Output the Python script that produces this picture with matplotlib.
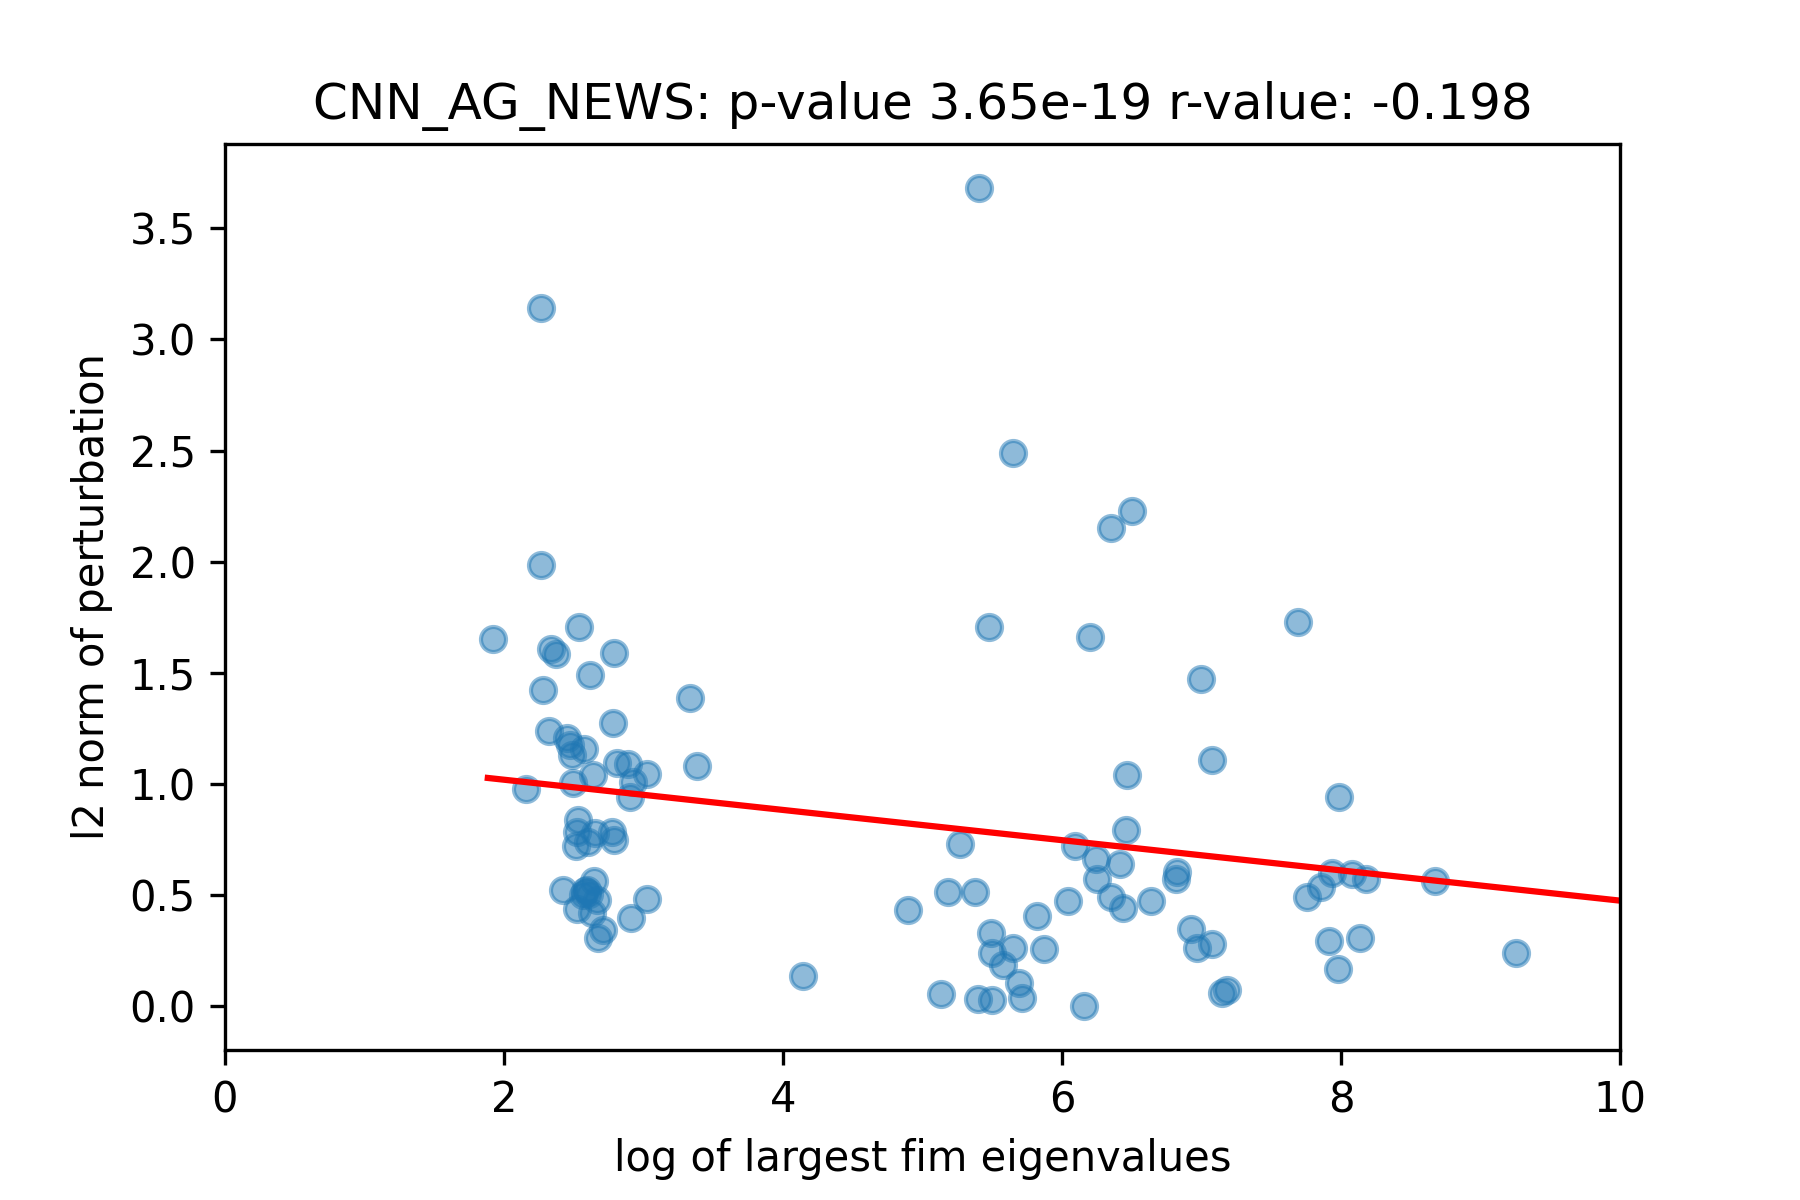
import matplotlib
matplotlib.use("Agg")
import matplotlib.pyplot as plt
import numpy as np

# log of largest fim eigenvalues
x_vals = [
    2.265, 2.282, 1.924, 2.540, 2.337, 2.373, 2.789, 2.619, 3.333, 2.781,
    2.323, 2.449, 2.473, 2.485, 2.576, 3.381, 2.808, 2.891, 3.023, 2.640,
    2.497, 2.158, 2.927, 2.903, 2.533, 2.521, 2.516, 2.605, 2.652, 2.777,
    2.789, 2.420, 2.645, 2.593, 2.569, 2.664, 2.521, 2.628, 3.027, 2.910,
    2.712, 2.676, 2.580, 2.610, 2.265,
    4.146, 4.898, 5.269, 5.185, 5.376, 5.133, 5.395, 5.501, 5.491, 5.501,
    5.651, 5.575, 5.694, 5.715, 5.818, 5.873, 6.045, 6.093, 6.158, 6.244,
    6.249, 6.351, 6.435, 6.416, 6.456, 6.463, 6.638, 6.822, 6.817, 6.922,
    6.970, 7.073, 7.145, 7.181, 7.754, 7.854, 7.938, 8.081, 8.177, 8.674,
    7.916, 8.136, 7.981, 9.254, 7.988, 7.078,
    5.407, 5.651, 6.504, 6.351, 5.479, 6.203, 7.694, 6.999,
]
# l2 norm of perturbation
y_vals = [
    1.985, 1.423, 1.651, 1.706, 1.607, 1.583, 1.588, 1.489, 1.388, 1.274,
    1.237, 1.206, 1.175, 1.130, 1.157, 1.081, 1.093, 1.090, 1.044, 1.040,
    1.003, 0.977, 1.010, 0.943, 0.838, 0.785, 0.721, 0.738, 0.778, 0.785,
    0.748, 0.523, 0.565, 0.523, 0.501, 0.478, 0.436, 0.418, 0.481, 0.396,
    0.343, 0.306, 0.520, 0.505, 3.140,
    0.136, 0.433, 0.730, 0.516, 0.516, 0.055, 0.031, 0.028, 0.328, 0.238,
    0.261, 0.186, 0.103, 0.039, 0.408, 0.258, 0.475, 0.721, 0.001, 0.661,
    0.573, 0.493, 0.444, 0.639, 0.793, 1.040, 0.474, 0.606, 0.571, 0.348,
    0.261, 0.280, 0.061, 0.073, 0.490, 0.535, 0.601, 0.595, 0.571, 0.564,
    0.294, 0.306, 0.166, 0.238, 0.940, 1.108,
    3.680, 2.488, 2.228, 2.150, 1.705, 1.660, 1.727, 1.471,
]

# regression line
fit_slope = -0.068
fit_intercept = 1.155
fit_x_range = [min(x_vals) - 0.04, 10.5]

title_text = "CNN_AG_NEWS: p-value 3.65e-19 r-value: -0.198"
x_label = "log of largest fim eigenvalues"
y_label = "l2 norm of perturbation"

fig = plt.figure(figsize=(6, 4), dpi=300)
ax = fig.add_axes([0.125, 0.125, 0.775, 0.755])

ax.scatter(x_vals, y_vals, alpha=0.5)
fx = np.array(fit_x_range)
ax.plot(fx, fit_intercept + fit_slope * fx, color="red")

ax.set_xlim(0, 10)
ax.set_ylim(-0.197, 3.879)
ax.set_title(title_text)
ax.set_xlabel(x_label)
ax.set_ylabel(y_label)

fig.savefig("out.png", dpi=300)
